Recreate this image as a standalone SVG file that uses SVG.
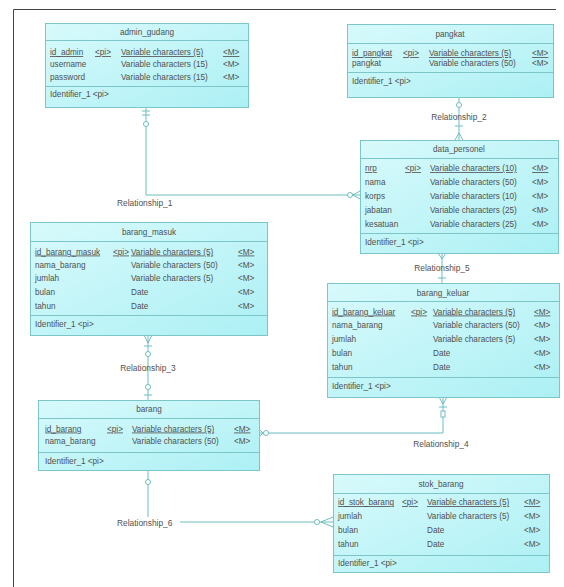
<svg xmlns="http://www.w3.org/2000/svg" width="564" height="587" viewBox="0 0 564 587">
<defs>
<linearGradient id="g" x1="0" y1="0" x2="1" y2="1">
<stop offset="0" stop-color="#d8fafc"/>
<stop offset="1" stop-color="#acf0f4"/>
</linearGradient>
</defs>
<style>
.box{fill:url(#g);stroke:#7cc5c9;stroke-width:1}
.sep{stroke:#7cc5c9;stroke-width:1}
.t{font-family:"Liberation Sans",Arial,sans-serif;font-size:8.2px;fill:#505050}
.u{text-decoration:underline}
.c{text-anchor:middle}
.ln{fill:none;stroke:#6fbcc0;stroke-width:1}
.o{fill:#ffffff;stroke:#6fbcc0;stroke-width:1}
.lb{font-family:"Liberation Sans",Arial,sans-serif;font-size:8.4px;fill:#505050}
</style>
<rect x="0" y="0" width="564" height="587" fill="#ffffff"/>
<path d="M13.5,600 V9.5 H556" fill="none" stroke="#444" stroke-width="1"/>

<g id="connectors">
<!-- R1 -->
<polyline class="ln" points="146,107 146,195 360,195"/>
<line class="ln" x1="142" y1="111" x2="150" y2="111"/>
<line class="ln" x1="142" y1="115" x2="150" y2="115"/>
<circle class="o" cx="146" cy="124" r="2.5"/>
<circle class="o" cx="350" cy="195" r="2.5"/>
<polyline class="ln" points="360,191 353,195 360,199"/>
<text class="lb" x="117" y="205.5">Relationship_1</text>
<!-- R2 -->
<line class="ln" x1="459" y1="97" x2="459" y2="140"/>
<circle class="o" cx="459" cy="105" r="2.5"/>
<line class="ln" x1="455" y1="126" x2="463" y2="126"/>
<polyline class="ln" points="455,140 459,133 463,140"/>
<text class="lb c" x="459" y="120">Relationship_2</text>
<!-- R5 -->
<line class="ln" x1="442" y1="253" x2="442" y2="283"/>
<polyline class="ln" points="438,253 442,259 446,253"/>
<line class="ln" x1="438" y1="278" x2="446" y2="278"/>
<text class="lb c" x="442" y="270.5">Relationship_5</text>
<!-- R3 -->
<line class="ln" x1="148" y1="335" x2="148" y2="400"/>
<polyline class="ln" points="144,335 148,343 152,335"/>
<line class="ln" x1="144" y1="346" x2="152" y2="346"/>
<circle class="o" cx="148" cy="354" r="2.5"/>
<circle class="o" cx="148" cy="387" r="2.5"/>
<line class="ln" x1="144" y1="395" x2="152" y2="395"/>
<text class="lb c" x="148" y="371">Relationship_3</text>
<!-- R4 -->
<polyline class="ln" points="443,397 443,433 259,433"/>
<polyline class="ln" points="439,397 443,404 447,397"/>
<line class="ln" x1="439" y1="407" x2="447" y2="407"/>
<rect x="441" y="411" width="4" height="6" class="o"/>
<circle class="o" cx="266" cy="433" r="2.5"/>
<polyline class="ln" points="259,429 263,433 259,437"/>
<text class="lb c" x="441" y="446.5">Relationship_4</text>
<!-- R6 -->
<polyline class="ln" points="148,470 148,522 333,522"/>
<circle class="o" cx="148" cy="482" r="2.5"/>
<circle class="o" cx="317" cy="522" r="2.5"/>
<polyline class="ln" points="333,517 321,522 333,527"/>
<rect x="116" y="517" width="64" height="10" fill="#ffffff"/>
<text class="lb" x="117" y="525.5">Relationship_6</text>
</g>

<g id="admin_gudang">
<rect class="box" x="45.5" y="23.5" width="203" height="84"/>
<line class="sep" x1="45.5" y1="40.5" x2="248.5" y2="40.5"/>
<line class="sep" x1="45.5" y1="86.5" x2="248.5" y2="86.5"/>
<text class="t c" x="147" y="35">admin_gudang</text>
<text class="t u" x="50" y="55">id_admin</text><text class="t u" x="95" y="55">&lt;pi&gt;</text><text class="t u" x="121" y="55">Variable characters (5)</text><text class="t u" x="223" y="55">&lt;M&gt;</text>
<text class="t" x="50" y="67">username</text><text class="t" x="121" y="67">Variable characters (15)</text><text class="t" x="223" y="67">&lt;M&gt;</text>
<text class="t" x="50" y="80">password</text><text class="t" x="121" y="80">Variable characters (15)</text><text class="t" x="223" y="80">&lt;M&gt;</text>
<text class="t" x="50" y="97">Identifier_1  &lt;pi&gt;</text>
</g>

<g id="pangkat">
<rect class="box" x="347.5" y="24.5" width="206" height="73"/>
<line class="sep" x1="347.5" y1="43.5" x2="553.5" y2="43.5"/>
<line class="sep" x1="347.5" y1="72.5" x2="553.5" y2="72.5"/>
<text class="t c" x="450" y="37">pangkat</text>
<text class="t u" x="352" y="56">id_pangkat</text><text class="t u" x="403" y="56">&lt;pi&gt;</text><text class="t u" x="429" y="56">Variable characters (5)</text><text class="t u" x="532" y="56">&lt;M&gt;</text>
<text class="t" x="352" y="66">pangkat</text><text class="t" x="429" y="66">Variable characters (50)</text><text class="t" x="532" y="66">&lt;M&gt;</text>
<text class="t" x="352" y="84">Identifier_1  &lt;pi&gt;</text>
</g>

<g id="data_personel">
<rect class="box" x="360.5" y="140.5" width="198" height="113"/>
<line class="sep" x1="360.5" y1="158.5" x2="558.5" y2="158.5"/>
<line class="sep" x1="360.5" y1="233.5" x2="558.5" y2="233.5"/>
<text class="t c" x="459" y="152">data_personel</text>
<text class="t u" x="365" y="171">nrp</text><text class="t u" x="405" y="171">&lt;pi&gt;</text><text class="t u" x="430" y="171">Variable characters (10)</text><text class="t u" x="532" y="171">&lt;M&gt;</text>
<text class="t" x="365" y="185">nama</text><text class="t" x="430" y="185">Variable characters (50)</text><text class="t" x="532" y="185">&lt;M&gt;</text>
<text class="t" x="365" y="199">korps</text><text class="t" x="430" y="199">Variable characters (10)</text><text class="t" x="532" y="199">&lt;M&gt;</text>
<text class="t" x="365" y="213">jabatan</text><text class="t" x="430" y="213">Variable characters (25)</text><text class="t" x="532" y="213">&lt;M&gt;</text>
<text class="t" x="365" y="227">kesatuan</text><text class="t" x="430" y="227">Variable characters (25)</text><text class="t" x="532" y="227">&lt;M&gt;</text>
<text class="t" x="365" y="245">Identifier_1  &lt;pi&gt;</text>
</g>

<g id="barang_masuk">
<rect class="box" x="30.5" y="222.5" width="237" height="113"/>
<line class="sep" x1="30.5" y1="241.5" x2="267.5" y2="241.5"/>
<line class="sep" x1="30.5" y1="315.5" x2="267.5" y2="315.5"/>
<text class="t c" x="149" y="235">barang_masuk</text>
<text class="t u" x="35" y="254.5">id_barang_masuk</text><text class="t u" x="113" y="254.5">&lt;pi&gt;</text><text class="t u" x="131" y="254.5">Variable characters (5)</text><text class="t u" x="238" y="254.5">&lt;M&gt;</text>
<text class="t" x="35" y="267.5">nama_barang</text><text class="t" x="131" y="267.5">Variable characters (50)</text><text class="t" x="238" y="267.5">&lt;M&gt;</text>
<text class="t" x="35" y="281">jumlah</text><text class="t" x="131" y="281">Variable characters (5)</text><text class="t" x="238" y="281">&lt;M&gt;</text>
<text class="t" x="35" y="295">bulan</text><text class="t" x="131" y="295">Date</text><text class="t" x="238" y="295">&lt;M&gt;</text>
<text class="t" x="35" y="309">tahun</text><text class="t" x="131" y="309">Date</text><text class="t" x="238" y="309">&lt;M&gt;</text>
<text class="t" x="35" y="327">Identifier_1  &lt;pi&gt;</text>
</g>

<g id="barang_keluar">
<rect class="box" x="327.5" y="283.5" width="232" height="114"/>
<line class="sep" x1="327.5" y1="301.5" x2="559.5" y2="301.5"/>
<line class="sep" x1="327.5" y1="377.5" x2="559.5" y2="377.5"/>
<text class="t c" x="443" y="295.5">barang_keluar</text>
<text class="t u" x="332" y="314.5">id_barang_keluar</text><text class="t u" x="411" y="314.5">&lt;pi&gt;</text><text class="t u" x="433" y="314.5">Variable characters (5)</text><text class="t u" x="534" y="314.5">&lt;M&gt;</text>
<text class="t" x="332" y="328">nama_barang</text><text class="t" x="433" y="328">Variable characters (50)</text><text class="t" x="534" y="328">&lt;M&gt;</text>
<text class="t" x="332" y="342">jumlah</text><text class="t" x="433" y="342">Variable characters (5)</text><text class="t" x="534" y="342">&lt;M&gt;</text>
<text class="t" x="332" y="356">bulan</text><text class="t" x="433" y="356">Date</text><text class="t" x="534" y="356">&lt;M&gt;</text>
<text class="t" x="332" y="370">tahun</text><text class="t" x="433" y="370">Date</text><text class="t" x="534" y="370">&lt;M&gt;</text>
<text class="t" x="332" y="389">Identifier_1  &lt;pi&gt;</text>
</g>

<g id="barang">
<rect class="box" x="38.5" y="400.5" width="221" height="70"/>
<line class="sep" x1="38.5" y1="418.5" x2="259.5" y2="418.5"/>
<line class="sep" x1="38.5" y1="452.5" x2="259.5" y2="452.5"/>
<text class="t c" x="149" y="412">barang</text>
<text class="t u" x="45" y="431.5">id_barang</text><text class="t u" x="107" y="431.5">&lt;pi&gt;</text><text class="t u" x="132" y="431.5">Variable characters (5)</text><text class="t u" x="234" y="431.5">&lt;M&gt;</text>
<text class="t" x="45" y="444">nama_barang</text><text class="t" x="132" y="444">Variable characters (50)</text><text class="t" x="234" y="444">&lt;M&gt;</text>
<text class="t" x="45" y="464">Identifier_1  &lt;pi&gt;</text>
</g>

<g id="stok_barang">
<rect class="box" x="333.5" y="474.5" width="216" height="98"/>
<line class="sep" x1="333.5" y1="493.5" x2="549.5" y2="493.5"/>
<line class="sep" x1="333.5" y1="555.5" x2="549.5" y2="555.5"/>
<text class="t c" x="441" y="487">stok_barang</text>
<text class="t u" x="338" y="505">id_stok_barang</text><text class="t u" x="402" y="505">&lt;pi&gt;</text><text class="t u" x="427" y="505">Variable characters (5)</text><text class="t u" x="524" y="505">&lt;M&gt;</text>
<text class="t" x="338" y="519">jumlah</text><text class="t" x="427" y="519">Variable characters (5)</text><text class="t" x="524" y="519">&lt;M&gt;</text>
<text class="t" x="338" y="533">bulan</text><text class="t" x="427" y="533">Date</text><text class="t" x="524" y="533">&lt;M&gt;</text>
<text class="t" x="338" y="547">tahun</text><text class="t" x="427" y="547">Date</text><text class="t" x="524" y="547">&lt;M&gt;</text>
<text class="t" x="338" y="566">Identifier_1  &lt;pi&gt;</text>
</g>
</svg>
